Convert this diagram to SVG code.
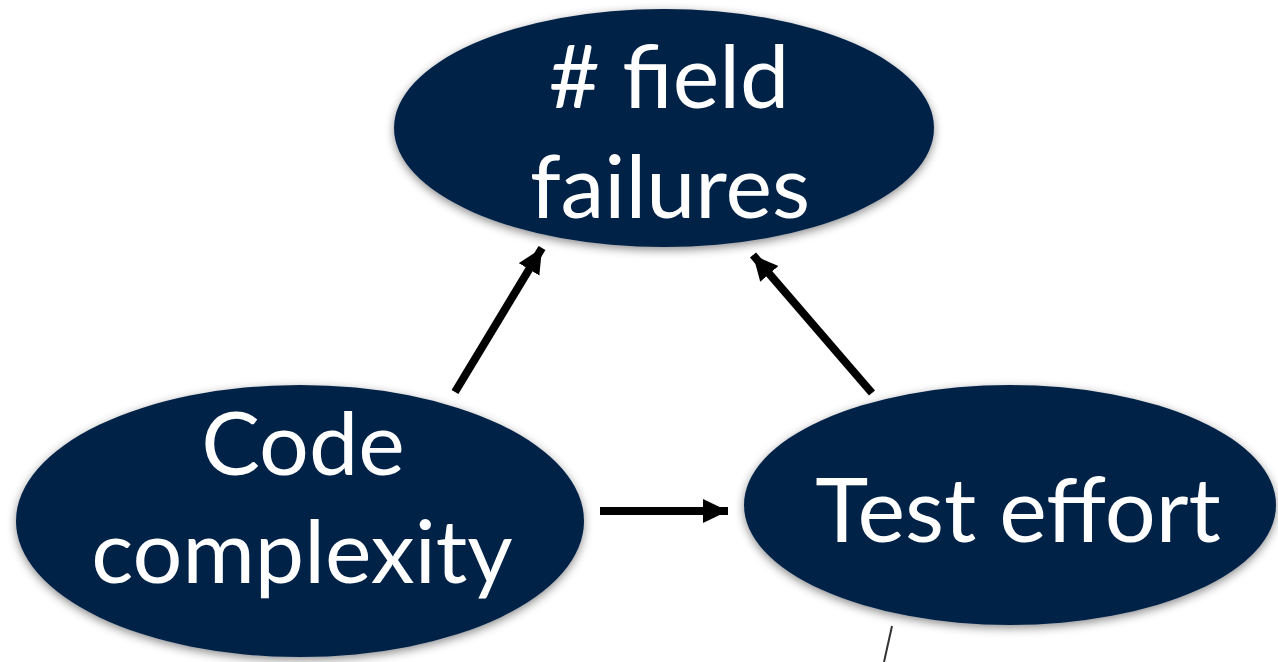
<svg xmlns="http://www.w3.org/2000/svg" width="1278" height="662" viewBox="0 0 1278 662">
  <defs>
    <filter id="shadow" x="-10%" y="-10%" width="120%" height="130%">
      <feDropShadow dx="0" dy="3" stdDeviation="5" flood-color="#000" flood-opacity="0.45"/>
    </filter>
    <marker id="arrow" markerUnits="userSpaceOnUse" markerWidth="28" markerHeight="26" refX="25" refY="12" orient="auto">
      <path d="M0,0 L25,12 L0,24 Z" fill="#000"/>
    </marker>
    <style>
      .node { fill: #022247; filter: url(#shadow); }
      .label { fill: #fff; font-family: Lato, "Open Sans", "Liberation Sans", sans-serif; font-size: 88px; text-anchor: middle; }
      .edge { stroke: #000; stroke-width: 8; fill: none; marker-end: url(#arrow); }
    </style>
  </defs>
  <rect width="1278" height="662" fill="#fff"/>

  <g id="node-field-failures">
    <ellipse class="node" cx="664" cy="128" rx="270" ry="119"/>
    <text class="label" x="669" y="108"># field</text>
    <text class="label" x="670" y="218">failures</text>
  </g>

  <g id="node-code-complexity">
    <ellipse class="node" cx="300" cy="521" rx="284" ry="136"/>
    <text class="label" x="303" y="475">Code</text>
    <text class="label" x="302" y="583">complexity</text>
  </g>

  <g id="node-test-effort">
    <ellipse class="node" cx="1010" cy="505" rx="266" ry="120"/>
    <text class="label" x="1018" y="542" style="font-size:90px">Test effort</text>
  </g>

  <g id="connectors">
    <line class="edge" x1="455" y1="392" x2="542" y2="248"/>
    <line class="edge" x1="872" y1="393" x2="753" y2="255"/>
    <line class="edge" x1="600" y1="511" x2="728" y2="511"/>
    <line x1="892" y1="626" x2="884" y2="662" stroke="#333" stroke-width="2"/>
  </g>
</svg>
